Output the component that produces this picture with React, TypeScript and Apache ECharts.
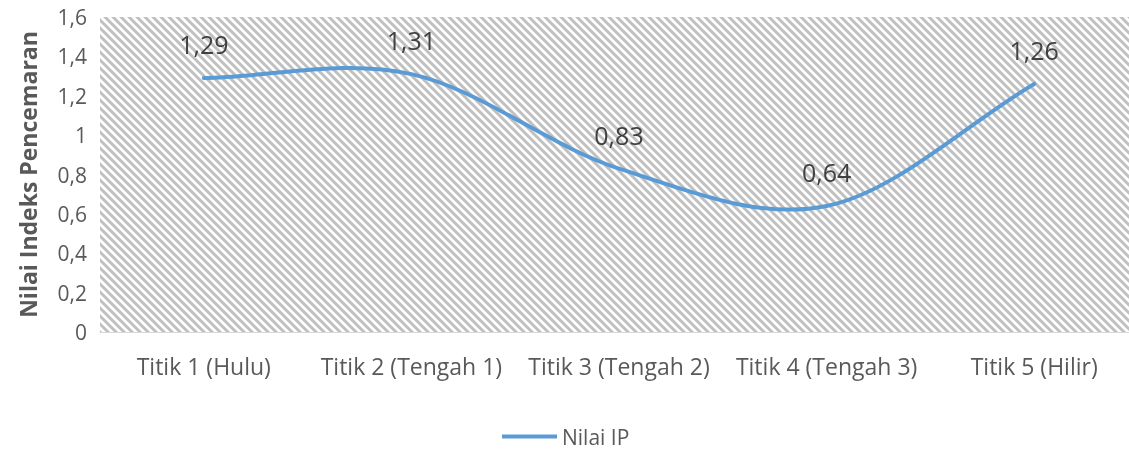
import React, { useEffect, useRef } from "react";
import * as echarts from "echarts";

const categories = [
  "Titik 1 (Hulu)",
  "Titik 2 (Tengah 1)",
  "Titik 3 (Tengah 2)",
  "Titik 4 (Tengah 3)",
  "Titik 5 (Hilir)",
];
const nilaiIP = [1.29, 1.31, 0.83, 0.64, 1.26];
const seriesName = "Nilai IP";
const yAxisName = "Nilai Indeks Pencemaran";

function makeHatch(): string {
  const c = document.createElement("canvas");
  c.width = 8;
  c.height = 8;
  const ctx = c.getContext("2d")!;
  ctx.fillStyle = "#ffffff";
  ctx.fillRect(0, 0, 8, 8);
  ctx.strokeStyle = "#c0c0c0";
  ctx.lineWidth = 3;
  for (const off of [-8, 0, 8]) {
    ctx.beginPath();
    ctx.moveTo(off - 2, -2);
    ctx.lineTo(off + 10, 10);
    ctx.stroke();
  }
  return c.toDataURL();
}

const fmt2 = (v: number) => v.toFixed(2).replace(".", ",");

export default function App() {
  const ref = useRef<HTMLDivElement>(null);
  useEffect(() => {
    if (!ref.current) return;
    document.body.style.overflow = "hidden";
    const chart = echarts.init(ref.current, null, { renderer: "svg" });
    const hatch = makeHatch();
    const font = "'Open Sans', sans-serif";
    const color = "#5B9BD5";

    const renderItem = (params: any, api: any) => {
      const idx = params.dataIndex;
      const children: any[] = [];
      const pt = api.coord([idx, nilaiIP[idx]]);
      if (idx === 0) {
        const pts = nilaiIP.map((v, i) => api.coord([i, v]));
        const n = pts.length;
        const tan = pts.map((p: number[], i: number) => {
          if (i === 0) return [pts[1][0] - p[0], pts[1][1] - p[1]];
          if (i === n - 1) return [p[0] - pts[i - 1][0], p[1] - pts[i - 1][1]];
          return [
            (pts[i + 1][0] - pts[i - 1][0]) / 2,
            (pts[i + 1][1] - pts[i - 1][1]) / 2,
          ];
        });
        let d = `M${pts[0][0]},${pts[0][1]}`;
        for (let i = 0; i < n - 1; i++) {
          const a = pts[i];
          const b = pts[i + 1];
          const c1 = [a[0] + tan[i][0] / 3, a[1] + tan[i][1] / 3];
          const c2 = [b[0] - tan[i + 1][0] / 3, b[1] - tan[i + 1][1] / 3];
          d += ` C${c1[0]},${c1[1]} ${c2[0]},${c2[1]} ${b[0]},${b[1]}`;
        }
        children.push({
          type: "path",
          shape: { pathData: d },
          style: { stroke: color, lineWidth: 4, fill: "none", lineCap: "round" },
          z2: 1,
        });
      }
      children.push({
        type: "text",
        x: pt[0],
        y: pt[1] - 34,
        z2: 2,
        style: {
          text: fmt2(nilaiIP[idx]),
          fontSize: 25,
          fontFamily: font,
          fill: "#404040",
          align: "center",
          verticalAlign: "middle",
        },
      });
      return { type: "group", children };
    };

    chart.setOption({
      animation: false,
      textStyle: { fontFamily: font },
      grid: {
        show: true,
        left: 100,
        top: 17,
        right: 0,
        bottom: 126,
        borderWidth: 0,
        backgroundColor: { image: hatch, repeat: "repeat" } as any,
      },
      legend: {
        show: true,
        left: 497,
        bottom: 6,
        icon: "rect",
        itemWidth: 55,
        itemHeight: 4,
        itemGap: 8,
        textStyle: { fontSize: 21, color: "#595959", fontFamily: font },
        data: [{ name: seriesName, itemStyle: { color } }],
      },
      xAxis: {
        type: "category",
        data: categories,
        boundaryGap: true,
        axisLine: { show: true, lineStyle: { color: "#d9d9d9", width: 1 } },
        axisTick: { show: false },
        axisLabel: {
          color: "#595959",
          fontSize: 23,
          margin: 22,
          interval: 0,
          fontFamily: font,
        },
        splitLine: { show: false },
      },
      yAxis: {
        type: "value",
        min: 0,
        max: 1.6,
        interval: 0.2,
        name: yAxisName,
        nameLocation: "middle",
        nameGap: 61,
        nameTextStyle: {
          fontSize: 23,
          fontWeight: "bold",
          color: "#595959",
          fontFamily: font,
        },
        axisLine: { show: false },
        axisTick: { show: false },
        splitLine: { show: false },
        axisLabel: {
          color: "#595959",
          fontSize: 21,
          margin: 13,
          fontFamily: font,
          formatter: (v: number) => String(+v.toFixed(1)).replace(".", ","),
        },
      },
      series: [
        {
          name: seriesName,
          type: "custom",
          data: nilaiIP.map((v, i) => [i, v]),
          encode: { x: 0, y: 1 },
          itemStyle: { color },
          renderItem,
          clip: false,
        },
      ],
    });
    return () => chart.dispose();
  }, []);
  return (
    <div
      ref={ref}
      style={{ position: "fixed", left: 0, top: 0, width: 1138, height: 458 }}
    />
  );
}
